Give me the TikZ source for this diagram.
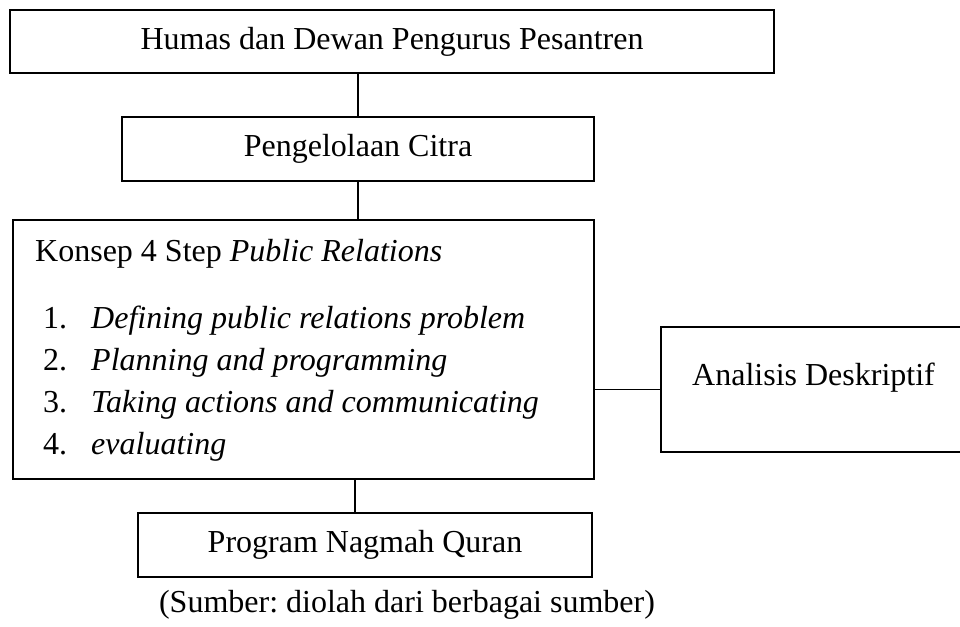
\documentclass[tikz,border=0pt]{standalone}
\usepackage{fontspec}
\setmainfont{Liberation Serif}
\usetikzlibrary{positioning}
\frenchspacing

\tikzset{
  box/.style={draw, line width=2pt, inner sep=0pt},
  link/.style={line width=1.2pt},
  txt/.style={inner sep=0pt, anchor=base west},
}

\begin{document}
\begin{tikzpicture}[x=1pt,y=-1pt,font=\fontsize{32}{40}\selectfont]
    \useasboundingbox (0,0) rectangle (960,626);

    % boxes of the chain
    \node[box, minimum width=764, minimum height=63] (humas) at (392,41.5) {Humas dan Dewan Pengurus Pesantren};
    \node[box, minimum width=472, minimum height=64] (citra) at (358,149) {Pengelolaan Citra};
    \node[box, minimum width=581, minimum height=259] (konsep) at (303.5,349.5) {};
    \node[box, minimum width=454, minimum height=64] (program) at (365,545) {Program Nagmah Quran};
    \node[box, minimum width=329, minimum height=125] (analisis) at (825.5,389.5) {};

    % texts in the boxes
    \node[txt] (judul) at (35,261) {Konsep 4 Step \textit{Public Relations}};
    \foreach \i/\t/\yy in {1/Defining public relations problem/328,
        2/Planning and programming/370,
        3/Taking actions and communicating/412,
        4/evaluating/454} {
        \node[txt] (no\i) at (43,\yy) {\i.};
        \node[txt] (langkah\i) at (91,\yy) {\textit{\t}};
      }
    \node[txt] (analisisTeks) at (692,385) {Analisis Deskriptif};

    % connectors
    \draw[link] (citra.north) -- (citra.north |- humas.south);
    \draw[link] (citra.south) -- (citra.south |- konsep.north);
    \draw[link] ([xshift=-10pt]program.north) -- ([xshift=-10pt]program.north |- konsep.south);
    \draw[link] (analisis.west) -- (analisis.west -| konsep.east);

    \node (sumber) at (407,605) {(Sumber: diolah dari berbagai sumber)};
  \end{tikzpicture}
\end{document}
